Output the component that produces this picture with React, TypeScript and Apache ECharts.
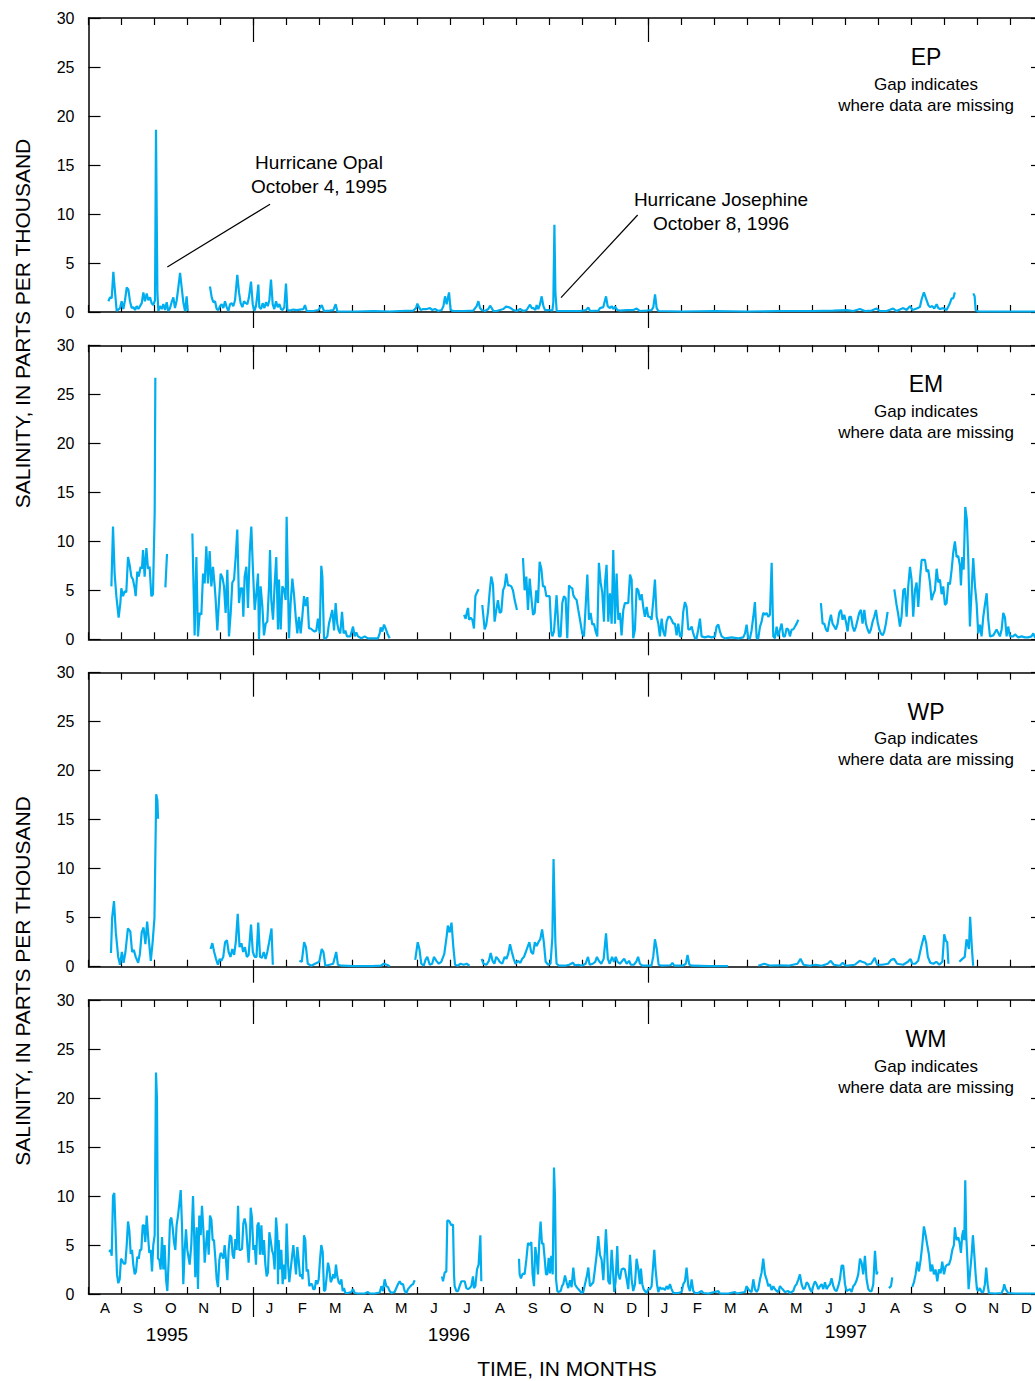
import React, { useEffect, useRef } from 'react';
import * as echarts from 'echarts';

// ---------- DATA (day offsets from 1 Aug 1995, salinity in ppt; null = missing) ----------
const MONTHS = ['A','S','O','N','D','J','F','M','A','M','J','J','A','S','O','N','D','J','F','M','A','M','J','J','A','S','O','N','D'];
const JAN_INDEX = [5, 17];
const DAY_MAX = 884;
const PANEL_NAMES = ['EP', 'EM', 'WP', 'WM'];
const GAP_NOTE = ['Gap indicates', 'where data are missing'];
const YEAR_LABELS = ['1995', '1996', '1997'];
const Y_LABEL = 'SALINITY, IN PARTS PER THOUSAND';
const X_LABEL = 'TIME, IN MONTHS';
const HURRICANES = [
  { name: 'Hurricane Opal', date: 'October 4, 1995', from: [168.1, 11.0], to: [73.0, 4.6] },
  { name: 'Hurricane Josephine', date: 'October 8, 1996', from: [508.6, 9.9], to: [437.6, 1.46] },
];

const EP: [number, number | null][] = [
[18.4,1.1],[19.9,1.5],[21.5,1.4],[23,4.1],[24.6,2.0],[26.1,0.1],[29.2,0.4],[30.7,1.1],[32.3,0.3],[33.8,1.2],[35.4,2.5],[36.9,2.3],[38.4,1.1],[40,0.4],[41.5,0.5],[43.1,0.2],[44.6,0.6],[46.2,0.3],[47.7,0.6],[49.3,0.9],[50.8,2.0],[52.3,1.1],[53.9,1.9],[55.4,1.2],[57,1.5],[58.5,0.9],[60,0.7],[61.6,1.2],[62.5,18.6],[63.8,2.0],[64.7,0.1],[66.2,0.6],[67.8,0.3],[69.3,0.8],[70.9,0.2],[72.4,1.0],[73.9,0.1],[75.5,0.4],[77,1.0],[78.6,1.5],[80.1,0.4],[81.7,1.2],[83.2,2.5],[84.8,4.0],[86.3,2.5],[87.8,1.0],[89.4,0.1],[90.9,1.6],[91.9,0.1],[95,null],
[112.5,2.6],[114.1,1.5],[115.6,1.0],[117.2,1.1],[118.7,0.3],[120.3,0.2],[121.8,0.6],[123.3,0.8],[124.9,0.4],[126.4,1.1],[128,0.5],[129.5,0.1],[131.1,0.8],[132.6,0.9],[134.1,0.6],[135.7,1.2],[137.8,3.8],[139.4,2.0],[140.9,0.9],[142.5,0.5],[144,1.1],[145.6,0.9],[147.1,0.8],[148.6,1.5],[150.5,3.1],[152.1,0.8],[153.6,0.1],[155.1,0.6],[156.1,1.5],[157.3,2.8],[158.2,0.5],[159.8,0.3],[161.3,0.9],[162.9,0.4],[164.4,1.0],[166,0.6],[167.5,1.2],[169,3.3],[170.6,0.8],[172.1,0.3],[173.7,1.1],[175.2,0.5],[176.8,0.8],[178.3,0.3],[179.8,0.2],[181.4,0.5],[182.9,2.9],[184.2,0.2],[186.6,0.15],[189.7,0.25],[192.8,0.2],[195.9,0.25],[199,0.3],[200.5,0.7],[202.1,0.1],[208.2,0.1],[212.9,0.2],[216,0.7],[218.1,0.1],[223.7,0.15],[226.8,0.2],[228.9,0.8],[230.5,0.05],[248.4,0.05],[263.8,0.1],[279.2,0.05],[288.5,0.1],[300.9,0.15],[303.3,0.4],[304.6,0.85],[306.1,0.5],[307.7,0.2],[310.1,0.3],[313.2,0.3],[316.3,0.4],[318.5,0.2],[320.9,0.3],[324,0.1],[327.1,0.2],[328.7,0.6],[330.2,1.6],[331.7,0.8],[333.9,2.0],[335.4,0.2],[337.9,0.1],[347.2,0.1],[356.4,0.15],[359.5,0.6],[361.1,1.1],[362.6,0.4],[364.2,0.2],[367.2,0.1],[370.3,0.3],[371.9,0.65],[373.4,0.4],[375,0.1],[378,0.1],[381.1,0.2],[384.2,0.3],[386.7,0.55],[388.8,0.5],[391,0.4],[393.5,0.2],[396.6,0.1],[399.7,0.3],[402.7,0.1],[405.8,0.2],[408.9,0.75],[410.5,0.4],[412,0.4],[413.9,0.2],[415.1,0.7],[416.6,0.3],[418.2,0.8],[419.7,1.6],[421.3,0.6],[422.8,0.2],[425.9,0.2],[429.6,0.15],[430.5,1.0],[431.5,8.9],[432.4,2.0],[433.6,0.1],[438.2,0.1],[446,0.1],[455.2,0.1],[460.8,0.2],[462.9,0.45],[464.5,0.1],[472.2,0.15],[473.7,0.4],[476.8,0.5],[479.3,1.6],[480.8,0.6],[483,0.4],[484.5,0.6],[486.1,0.3],[487.6,0.55],[489.8,0.2],[492.3,0.15],[498.4,0.2],[504.6,0.2],[507.7,0.35],[510.8,0.1],[517,0.15],[521.6,0.2],[523.1,0.5],[524.7,1.8],[526.2,0.4],[527.8,0.1],[550,0.05],[580,0.1],[610,0.05],[640,0.1],[671.2,0.1],[689.8,0.15],[702.1,0.2],[708.3,0.1],[714.5,0.3],[719.1,0.1],[725.3,0.15],[729.9,0.35],[733,0.1],[739.2,0.1],[745.3,0.35],[748.4,0.1],[751.5,0.25],[754.6,0.4],[757.7,0.2],[760.8,0.6],[763.2,0.2],[767,0.35],[770,0.5],[771.6,1.3],[773.7,2.0],[775.6,1.4],[777.8,0.7],[779.3,0.5],[781.5,0.6],[783.3,0.35],[785.5,0.8],[787,0.4],[788.6,0.3],[791.6,0.4],[794.7,0.2],[797.8,0.9],[799.4,1.4],[800.9,1.4],[802.4,2.0],[810,null],
[819.4,1.9],[820.7,1.6],[821.6,0.2],[824.1,0.05],[850,0.05],[884,0.05]
];

const EM: [number, number | null][] = [
[21.2,5.4],[22.7,11.5],[24.2,6.7],[25.8,4.4],[27.9,2.2],[29.5,3.7],[30.4,5.2],[32,4.4],[33.5,4.9],[35,4.8],[36.6,8.4],[38.1,7.6],[39.7,6.4],[41.2,6.1],[42.8,5.2],[43.7,4.4],[45.2,6.9],[46.5,6.4],[48.3,7.4],[49.5,7.2],[50.5,9.1],[52,6.4],[53.6,9.3],[55.1,7.2],[56.6,7.4],[58.2,4.4],[59.7,4.6],[61.3,13],[61.9,26.7],[63,null],
[71.2,5.3],[72.7,8.7],[75,null],
[96.2,10.8],[98.3,0.4],[99.9,8.4],[101.4,0.3],[103,2.7],[104.5,2.5],[106.1,6.7],[107.6,5.7],[109.1,9.5],[110.7,5.7],[112.2,9.0],[113.8,5.4],[115.3,7.4],[116.9,5.4],[117.8,4.0],[119.3,0.9],[120.9,4.0],[122.4,6.7],[124,6.3],[125.5,5.4],[127,2.7],[128.6,7.1],[130.1,0.3],[131.7,2.7],[133.2,5.8],[134.8,6.1],[136.3,8.4],[137.8,11.2],[139.4,3.7],[140.9,5.2],[142.5,5.2],[143.4,2.3],[144.6,6.4],[146.2,7.4],[147.7,3.2],[149.3,8.9],[150.8,11.5],[152.3,7.1],[153.9,3.0],[155.4,4.6],[157,6.7],[157.9,0],[159.4,5.4],[161,3.4],[162.5,0.4],[164.1,1.6],[165.6,1.8],[167.2,5.4],[168.1,9.1],[169.3,4.0],[170.9,2.0],[172.4,5.6],[173.9,8.4],[175.5,1.0],[176.4,6.1],[178,1.0],[179.5,5.4],[181,5.1],[182.6,4.0],[183.5,12.5],[184.8,5.1],[185.7,0.1],[187.2,3.7],[188.8,6.2],[190.3,4.6],[191.9,2.3],[193.4,0.6],[194.9,2.3],[196.5,0.6],[198,2.3],[199.6,4.4],[201.1,3.4],[202.7,4.3],[204.2,1.1],[205.8,1.1],[207.9,0.9],[209.5,0.8],[211,0.9],[212.5,2.1],[214.1,0.6],[215.6,7.5],[216.6,6.4],[218.1,0.1],[219.7,0.1],[221.2,0.3],[222.7,1.6],[224.3,2.3],[225.8,3.0],[227.4,0.9],[228.9,3.7],[230.4,1.6],[231.7,0.9],[233.2,0.6],[234.8,2.8],[236.3,0.6],[237.9,0.9],[239.4,0.3],[242.5,0.3],[245,1.3],[246.5,0.3],[248,0.7],[249.6,0.3],[252.7,0.1],[255.8,0.3],[258.8,0.1],[268.1,0.1],[269.7,0.6],[270.6,1.2],[272.1,0.8],[273.7,1.5],[275.2,1.1],[276.8,0.6],[278.9,0.1],[290,null],
[347.8,2.5],[349.3,2.1],[350.5,2.8],[351.5,3.2],[352.4,2.0],[353.9,2.2],[355.5,2.0],[357,1.1],[358.3,4.4],[359.8,4.8],[361.3,5.1],[363,null],
[364.7,3.5],[366.9,1.0],[368.4,1.5],[370,2.8],[371.5,4.8],[373,6.4],[374.6,5.6],[376.1,1.8],[377.7,3.0],[379.2,4.0],[380.8,2.7],[382.3,2.8],[383.9,5.0],[385.4,5.4],[386.9,6.7],[388.5,5.5],[390,5.5],[391.6,5.4],[393.1,5.0],[394.7,4.0],[396.8,3.0],[398.5,null],
[402.4,8.3],[403.9,5.0],[405.5,6.4],[407,3.0],[408.6,6.2],[410.1,4.3],[411.7,2.5],[413.2,2.7],[414.7,5.0],[416.3,3.7],[417.8,7.9],[419.4,7.2],[420.9,5.4],[422.5,5.4],[424,4.4],[425.5,4.4],[427.1,4.4],[428.6,0.8],[429.6,0.3],[431.1,0.8],
[433.5,4.5],[435.7,0.3],[437.2,0.3],[438.8,3.7],[440.3,4.4],[441.9,4.2],[443.4,0.1],[445,5.5],[446.5,5.3],[448.1,5.2],[449,4.5],[450.5,4.2],[452.1,4.0],[453.6,3.0],[455.2,2.0],[457.3,0.6],[458.9,0.3],[460.4,3.3],[462,6.6],[463.5,2.0],[465,2.7],[466.6,1.5],[468.1,1.6],[469.7,0.8],[471.2,0.3],[472.7,7.8],[474.3,5.8],[475.8,4.8],[477.4,1.8],[478.3,5.7],[479.8,7.6],[481.4,1.8],[482.9,4.7],[484.5,1.6],[486,9.1],[487.6,1.6],[489.1,6.7],[490.7,2.0],[492.2,2.7],[493.7,0.4],[495.3,3.0],[496.8,3.7],[498.4,3.7],[499.9,3.7],[501.5,6.6],[503,6.1],[504.5,0.1],[506.1,1.0],[507.6,5.2],[509.2,5.0],[510.7,4.0],[512.3,4.6],[513.8,3.3],[515.3,2.3],[516.9,3.3],[518.4,2.3],[520,2.3],[521.5,2.0],[523.1,4.0],[524.6,6.1],[526.2,2.3],[527.7,1.6],[529.2,0.3],[530.8,2.1],[532.3,0.8],[533.9,0.3],[535.4,1.8],[537,2.3],[538.5,2.3],[540,2.0],[541.6,1.6],[543.1,1.6],[544.7,0.4],[546.2,1.6],[547.8,0.3],[549.3,0.3],[550.8,2.8],[552.4,3.8],[553.9,3.3],[555.5,1.0],[557,1.0],[558.6,1.3],[560.1,0.6],[561.7,0.1],[563.2,0.1],[564.7,1.0],[566.3,2.1],[567.8,0.3],[570.9,0.2],[574,0.3],[577.1,0.2],[580.2,0.3],[581.7,1.3],[583.3,1.5],[584.8,0.8],[586.4,0.3],[589.4,0.1],[595.6,0.2],[601.8,0.1],[606.4,0.2],[608,0.6],[609.5,1.5],[611,0.1],[612.6,0.1],[614.1,0.9],[615.7,2.3],[617.2,3.8],[618.8,0.1],[620.3,0.1],[621.9,1.3],[623.4,1.8],[624.9,2.7],[626.5,2.5],[628,2.7],[629.6,2.3],[631.1,2.5],[632.7,7.8],[634.2,0.3],[635.7,0.1],[637.3,1.3],[638.8,0.3],[640.4,1.0],[641.9,1.6],[643.5,0.3],[645,0.3],[646.5,1.1],[648.1,1.0],[649.6,0.3],[651.2,1.0],[652.7,1.0],[654.3,1.3],[655.8,1.6],[657.4,2.0],[664,null],
[678.3,3.7],[679.9,1.6],[681.4,1.6],[683,1.0],[684.5,0.8],[686.1,1.8],[687.6,2.5],[689.1,1.6],[690.7,1.3],[692.2,1.0],[693.8,1.6],[695.3,2.7],[696.9,3.0],[698.4,2.0],[699.9,2.5],[701.5,1.8],[703,0.8],[704.6,2.3],[706.1,2.3],[707.7,1.3],[709.2,0.8],[710.8,1.3],[712.3,2.0],[713.8,2.7],[715.4,3.0],[716.9,1.6],[718.5,3.0],[720,1.6],[721.6,1.0],[723.1,0.6],[724.6,1.0],[726.2,1.8],[727.7,2.3],[729.3,3.0],[730.8,1.8],[732.4,1.0],[733.9,0.6],[735.5,0.4],[737,0.8],[738.5,1.6],[740.1,2.8],[743,null],
[746.3,5.1],[748.4,3.5],[750,2.5],[751.5,1.3],[753,2.3],[754.6,5.0],[756.1,5.2],[757.7,2.3],[759.2,5.4],[760.8,7.4],[762.3,6.1],[763.8,2.3],[765.4,5.0],[766.9,5.8],[768.5,3.3],[770,6.1],[771.6,8.1],[773.1,8.1],[774.7,8.1],[776.2,6.9],[777.7,7.1],[779.3,5.8],[780.8,4.0],[782.4,4.6],[783.9,5.0],[785.5,7.2],[787,5.8],[788.6,6.1],[790.1,4.6],[791.6,5.4],[793.2,3.5],[794.7,3.7],[796.3,5.8],[797.8,5.6],[799.4,7.1],[800.9,8.9],[802.4,10.0],[804,8.4],[805.5,8.5],[807.1,7.5],[808,5.5],[809.2,8.4],[810.5,7.1],[812,13.5],[813.5,12.2],[814.8,8.2],[816.3,1.3],[817.9,5.0],[819.4,8.3],[821,5.4],[822.5,3.7],[824,0.6],[825.6,1.5],[827.1,0.3],[828.7,2.3],[830.2,3.5],[831.8,4.7],[833.3,2.0],[834.9,0.3],[838,0.4],[841,1.0],[844.1,0.3],[845.7,1.0],[847.2,2.7],[848.8,2.2],[850.3,0.3],[851.8,1.3],[853.4,0.3],[856.5,0.3],[858,0.5],[861.1,0.2],[864.2,0.3],[867.3,0.2],[870.3,0.2],[873.4,0.3],[875,0.6],[876.5,0.2],[884,0.1]
];

const WP: [number, number | null][] = [
[20.8,1.4],[21.9,5.0],[23.6,6.7],[25.3,3.5],[27.5,1.0],[29.2,0.2],[30.9,1.5],[32.5,0.4],[34.2,1.5],[36.5,3.9],[38.7,3.6],[40.4,1.5],[42,1.7],[43.7,1.0],[46,0.4],[47.6,1.3],[49.3,3.5],[51,4.0],[52.7,2.3],[54.3,4.6],[56,2.6],[57.7,0.6],[59.4,2.5],[61.1,5.0],[62.7,17.6],[63.8,17.0],[64.4,15.1],[66,null],
[113.1,1.8],[114.7,2.4],[116.4,1.5],[118.1,0.8],[119.8,0.2],[121.5,0.8],[123.1,0.6],[124.8,1.0],[126.5,2.5],[128.2,2.7],[129.8,1.5],[131.5,1.0],[133.2,1.8],[134.9,1.2],[136.5,2.6],[138.2,5.4],[139.9,2.0],[141.6,2.4],[143.3,1.5],[144.9,2.0],[146.6,1.0],[148.3,1.2],[150.5,4.3],[152.2,1.5],[153.9,1.0],[155.6,1.0],[157.2,4.5],[158.9,1.0],[160.6,0.9],[162.3,1.5],[164,0.8],[165.6,1.5],[167.3,2.5],[169.5,3.9],[170.7,0.2],[178,null],
[195.3,0.6],[197.5,0.5],[199.7,2.5],[201.4,2.0],[203.1,0.3],[206.4,0.1],[209.8,0.3],[213.7,0.5],[216,1.8],[217.6,1.5],[219.3,0.1],[223.2,0.2],[226.6,0.3],[229.4,1.5],[231,0.2],[234.4,0.1],[245.6,0.05],[262.4,0.05],[270.8,0.1],[273.5,0.3],[276.3,0.2],[279.1,0.05],[285,null],
[302.6,0.7],[304.9,2.5],[306.5,1.8],[308.2,0.3],[310.5,0.1],[312.1,0.7],[313.8,1.0],[316,0.2],[318.3,0.3],[319.9,1.0],[322.2,0.6],[324.4,0.3],[326.7,0.5],[329.5,1.3],[331.7,3.1],[332.8,4.2],[334.5,3.5],[336.2,4.5],[337.9,2.0],[339.5,0.2],[341.8,0.1],[344.6,0.3],[347.4,0.2],[350.2,0.3],[352.9,0.1],[358,null],
[364.1,0.8],[365.8,0.3],[368.6,0.2],[370.8,0.6],[372.5,1.4],[374.2,0.6],[375.9,0.3],[377.6,1.0],[379.2,0.8],[380.9,0.5],[383.2,0.3],[385.4,1.0],[387.1,0.8],[388.7,1.3],[390.4,2.3],[392.1,1.5],[393.8,0.8],[395.5,0.3],[397.7,0.6],[400,0.4],[401.6,0.8],[403.3,1.0],[405,1.5],[406.6,2.0],[408.3,2.5],[410,1.5],[411.7,1.3],[413.4,2.5],[415,2.1],[416.7,2.5],[418.4,2.8],[420.1,3.8],[421.7,2.5],[423.4,0.5],[425.7,0.2],[427.9,0.3],[429.6,3.0],[430.7,11.0],[432.4,2.5],[433.5,0.3],[435.7,0.1],[441.3,0.1],[445.2,0.2],[448.6,0.4],[450.3,0.15],[453.6,0.2],[457,0.1],[460.3,0.3],[462.6,1.0],[464.2,0.2],[467,0.3],[469.3,0.5],[470.9,1.0],[472.6,0.6],[474.9,0.3],[477.1,0.8],[479.3,3.4],[481,0.8],[482.7,0.3],[484.9,1.0],[486.6,0.5],[488.3,1.0],[490,0.5],[492.2,0.3],[494.4,0.6],[496.1,0.8],[498.4,0.3],[500.6,0.6],[502.3,0.2],[505.1,0.2],[507.3,0.5],[509,1.0],[510.7,0.3],[512.9,0.1],[516.8,0.1],[521.3,0.1],[523,1.0],[524.6,2.8],[526.3,1.8],[528,0.2],[530.8,0.1],[539.2,0.15],[540.8,0.4],[542.5,0.1],[550.4,0.1],[553.2,0.3],[554.8,1.2],[556.5,0.2],[558.8,0.1],[575.5,0.05],[592.3,0.05],[605,null],
[620.3,0.1],[625.9,0.3],[628.7,0.2],[631.5,0.1],[639.8,0.15],[648.2,0.1],[656.6,0.3],[659.4,0.8],[662.2,0.2],[667.8,0.1],[673.4,0.2],[679,0.1],[684.6,0.3],[687.4,0.6],[690.2,0.2],[695.8,0.1],[698.5,0.4],[701.3,0.1],[709.7,0.2],[714.2,0.6],[716.4,0.5],[719.2,0.4],[720.9,0.2],[724.8,0.3],[728.2,0.9],[730.4,0.2],[734.9,0.2],[740.5,0.3],[743.3,0.7],[746.1,0.8],[748.9,0.3],[754.5,0.2],[758.9,0.5],[761.2,0.8],[762.9,0.3],[765.7,0.3],[768.4,0.6],[771.2,2.0],[774,3.2],[775.7,2.5],[777.4,1.0],[779.6,0.4],[782.4,0.3],[785.2,0.5],[788,0.2],[790.8,0.5],[792.5,3.3],[794.2,2.6],[795.3,2.5],[796.4,0.3],[800,null],
[806.5,0.5],[809.3,0.8],[811.5,1.0],[813.2,2.8],[815.4,1.8],[816.5,5.1],[818.2,1.8],[819.3,0.1]
];

const WM: [number, number | null][] = [
[19,4.3],[20.5,4.5],[21.5,3.9],[22.7,10.0],[23.9,10.3],[25.2,6.0],[26.4,2.0],[27.6,1.1],[28.9,1.5],[30.1,3.6],[31.3,3.4],[32.6,3.1],[34.1,3.1],[35.4,5.0],[36.6,7.4],[37.8,6.5],[39.1,4.1],[40.3,4.5],[41.5,3.0],[42.8,2.0],[44,2.3],[45.2,3.8],[46.5,3.6],[47.7,4.5],[48.9,4.5],[50.2,7.0],[51.4,7.0],[52.6,5.3],[53.9,8.0],[55.1,6.0],[56.3,4.2],[57.6,4.5],[58.8,2.3],[60,5.0],[61.3,6.0],[62.5,22.6],[63.4,20],[64.4,3.6],[65.6,3.5],[66.8,2.5],[68.1,5.8],[69.3,2.5],[70.5,5.0],[71.8,1.5],[73,0.3],[74.2,3.3],[75.5,7.5],[76.7,7.8],[77.9,6.8],[79.2,5.3],[80.4,4.5],[81.6,7.0],[82.9,8.0],[84.1,9.2],[85.4,10.6],[86.6,6.9],[87.8,1.0],[89.1,4.5],[90.3,6.6],[91.5,4.5],[93.7,3.0],[95.2,5.0],[96.8,10.0],[98,5.5],[98.9,1.7],[100.2,6.8],[101.4,0.5],[102.6,8.0],[103.9,6.0],[105.1,9.0],[106.4,6.5],[107.6,3.2],[108.8,5.0],[110.1,6.5],[111.3,4.0],[112.5,8.0],[113.8,7.6],[115,5.5],[116.2,5.5],[117.5,3.6],[118.7,1.5],[119.9,0.7],[121.2,3.5],[122.4,4.2],[123.6,4.0],[124.9,3.6],[126.1,5.0],[127.3,3.5],[128.6,1.4],[129.8,4.5],[131,6.0],[132.3,5.8],[133.5,4.0],[134.7,3.6],[136,5.6],[137.2,4.5],[138.5,9.0],[139.7,4.5],[140.9,4.5],[142.2,4.6],[143.4,7.2],[144.6,7.7],[145.9,7.0],[147.1,5.0],[148.3,3.2],[149.6,6.0],[150.2,8.8],[151.4,7.8],[152.7,4.5],[153.9,5.0],[155.1,3.0],[156.4,7.0],[157.6,7.3],[158.8,4.0],[160.1,7.0],[161.3,4.0],[162.5,5.5],[163.8,3.0],[165,1.8],[166.2,2.2],[167.5,6.3],[168.7,5.5],[169.9,4.5],[171.2,4.0],[172.4,2.5],[173.7,7.8],[174.9,6.0],[175.5,1.0],[176.1,5.5],[177.4,2.5],[178.6,4.5],[179.8,1.0],[181.1,3.0],[182.3,1.5],[183.5,7.2],[184.8,3.0],[186,1.2],[187.2,2.5],[188.5,3.8],[189.7,5.0],[190.9,3.5],[192.2,2.0],[193.4,4.8],[194.6,3.5],[195.9,1.8],[197.1,2.0],[198.3,1.5],[199.6,6.0],[200.8,5.5],[202,2.3],[203.3,2.5],[204.5,0.8],[205.8,1.0],[207,1.0],[208.2,0.5],[209.5,0.5],[210.7,1.4],[211.9,1.0],[213.2,1.5],[214.4,3.5],[215.6,5.0],[216.9,4.3],[218.1,0.3],[219.3,0.4],[220.6,1.8],[221.8,3.2],[223,2.6],[224.3,1.2],[225.5,1.5],[226.7,2.0],[228,1.6],[229.2,3.0],[230.4,1.8],[231.7,1.2],[232.9,1.0],[234.2,1.5],[235.4,0.3],[236.6,0.6],[237.9,0.1],[240.3,0.1],[243.4,0.2],[245,0.5],[246.5,0.1],[249.6,0.05],[255.8,0.05],[258.8,0.2],[260.4,0.05],[265,0.05],[269.7,0.15],[271.2,0.8],[272.7,0.3],[274.3,1.5],[275.8,0.8],[277.4,0.7],[278.9,0.3],[280.5,0.1],[283.5,0.2],[286.6,1.0],[288.2,1.3],[289.7,1.0],[291.3,1.0],[292.8,0.3],[294.4,0.1],[295.9,0.5],[297.4,0.7],[299,0.9],[300.5,1.0],[302.1,1.4],[310,null],
[327.4,1.8],[328.3,1.3],[329.9,2.2],[331.4,2.3],[332.3,7.5],[333.6,7.5],[334.8,7.3],[336,7.0],[337.6,7.1],[338.5,2.0],[339.1,0.8],[340.7,0.3],[342.2,0.3],[343.7,0.8],[345.3,1.3],[346.8,1.3],[348.4,1.3],[349.9,0.6],[351.5,0.5],[353,0.6],[354.5,0.8],[356.1,1.8],[357,0.6],[358.3,0.8],[359.8,2.5],[361.3,3.0],[362.9,6.0],[363.8,1.3],[372,null],
[398.7,3.6],[399.3,2.0],[400.5,1.6],[401.8,2.0],[403,2.1],[403.9,2.0],[405.5,3.5],[407,5.2],[408.6,5.0],[410.1,5.3],[411.3,2.0],[412.6,0.8],[413.8,4.8],[415,3.8],[416.3,2.0],[417.5,5.4],[418.7,7.4],[420,5.1],[421.2,5.2],[422.5,3.6],[423.7,2.0],[424.9,2.0],[426.2,3.7],[427.4,2.1],[428.6,3.9],[429.9,2.0],[431.1,12.9],[432,10.0],[433,1.5],[434.2,0.3],[435.1,0.2],[437.3,0.3],[438.5,0.8],[439.7,1.0],[441.3,1.9],[442.8,1.2],[444.3,0.6],[445.9,1.4],[447.4,0.7],[449,2.7],[450.5,1.0],[452.1,0.7],[453.6,0.5],[455.2,0.3],[456.7,0.1],[458.2,0.2],[459.8,1.0],[461.3,1.7],[462.9,2.7],[464.4,0.8],[466,1.0],[467.5,1.2],[469,2.5],[470.6,4.0],[472.1,5.9],[473.7,4.0],[475.2,3.5],[476.8,1.4],[478.3,4.5],[479.2,6.6],[480.2,4.5],[481.4,1.3],[482.9,1.0],[484.5,4.5],[486,2.0],[486.9,0.2],[488.2,1.3],[489.7,4.9],[490.7,2.0],[492.2,1.5],[493.7,2.5],[495.3,2.6],[496.8,2.5],[498.4,1.5],[499.9,0.5],[501.5,4.0],[503,1.5],[504.5,0.3],[506.1,1.0],[507.6,3.6],[509.2,2.5],[510.7,1.0],[511.6,2.6],[512.9,1.0],[514.1,0.5],[515.3,0.3],[516.9,0.1],[518.4,0.5],[520,0.5],[521.5,0.8],[524,4.5],[525.2,2.5],[526.5,1.0],[527.7,0.2],[529.2,0.7],[530.8,0.5],[532.3,0.6],[533.9,0.4],[535.4,0.8],[537,0.5],[538.5,1.0],[540,0.5],[541.6,0.1],[546.2,0.1],[549.3,0.2],[550.8,1.0],[552.4,1.3],[553.9,2.7],[555.5,0.8],[557,0.3],[558.6,1.5],[560.1,0.3],[561.7,0.1],[564.7,0.1],[567.8,0.3],[569.4,0.1],[574,0.05],[583.3,0.3],[584.8,0.05],[592.5,0.05],[598.7,0.2],[600.2,0.05],[608,0.2],[609.5,0.8],[611,0.5],[612.6,0.3],[614.1,0.2],[615.7,1.5],[617.2,0.5],[618.8,0.2],[620.3,0.5],[621.9,1.5],[623.4,2.2],[624.9,3.6],[626.5,2.0],[628,1.5],[629.6,0.8],[631.1,1.0],[632.7,0.4],[634.2,0.8],[635.7,0.5],[637.3,0.3],[638.8,0.2],[640.4,0.8],[641.9,0.6],[643.5,0.4],[645,0.2],[648.1,0.3],[649.6,0.1],[652.7,0.3],[654.3,0.8],[655.8,1.0],[657.4,1.5],[658.9,2.0],[660.4,1.0],[662,0.5],[663.5,0.6],[665.1,1.2],[666.6,1.0],[668.2,0.5],[669.7,0.2],[671.2,0.8],[672.8,1.3],[674.3,1.0],[675.9,0.5],[677.4,0.8],[679,1.0],[680.5,0.5],[682.1,1.2],[683.6,0.5],[685.1,0.8],[686.7,1.0],[688.2,1.6],[689.8,0.8],[691.3,0.4],[692.8,0.3],[694.4,0.8],[695.9,1.5],[697.5,2.9],[699,2.9],[700.6,1.0],[702.1,0.3],[703.7,0.4],[705.2,0.5],[706.7,0.2],[708.3,0.8],[709.8,1.0],[711.4,1.4],[712.9,2.0],[714.5,3.6],[716,3.2],[717.5,2.0],[719.1,3.9],[720.6,1.5],[722.2,0.5],[723.7,0.3],[725.3,0.3],[726.8,1.0],[728.4,4.4],[729.9,2.0],[730.8,2.3],[733,null],
[741.3,0.6],[743.2,0.8],[744.4,1.7],[748,null],
[762.9,0.7],[764.5,1.2],[766,2.0],[767.6,3.3],[769.1,2.3],[770.7,3.5],[772.2,5.0],[773.7,6.9],[775.3,6.0],[776.8,5.0],[778.4,4.0],[779.9,2.3],[781.4,3.0],[783,2.0],[784.5,2.5],[786.1,1.3],[787.6,2.5],[789.2,2.1],[790.7,3.3],[792.3,2.0],[793.8,2.8],[795.3,3.0],[796.9,3.0],[798.4,3.5],[800,4.5],[801.5,5.0],[802.4,6.8],[803.4,5.8],[804.3,5.5],[805.5,5.8],[806.8,5.2],[808,4.2],[809.2,6.0],[810.2,6.5],[811.1,5.5],[812,11.6],[812.9,6.0],[814.2,3.0],[815.1,0.5],[816.3,2.0],[817.9,4.0],[819.1,6.0],[820.4,4.0],[821.6,2.0],[822.8,0.5],[824,0.3],[825.6,0.6],[827.1,0.2],[828.7,0.2],[830.2,1.0],[831.4,2.7],[832.7,1.0],[833.9,0.1],[839.5,0.05],[845.7,0.1],[847.2,0.5],[848.1,1.0],[849.4,0.5],[850.6,0.3],[851.8,0.1],[858,0.05],[876.5,0.05],[884,0.05]
];

const SERIES = [EP, EM, WP, WM];

// ---------- LAYOUT / STYLE ----------
const FONT = '"Liberation Sans", Arial, Helvetica, sans-serif';
const LINE_COLOR = '#00AEEF';
const INK = '#000';
const PAGE_W = 1035;
const PAGE_H = 1381;
const CHART_W = 1060; // wider than the page; the plot frame runs past the right edge
const GRID_LEFT = 88.5;
const GRID_W = 954.5;
const GRID_H = 294;
const GRID_TOPS = [18, 345.3, 672.7, 1000];

function txt(text: string, x: number, y: number, size: number, extra: any = {}) {
  return {
    type: 'text', x, y, silent: true, ...extra,
    style: {
      text, fill: INK, font: `${size}px ${FONT}`,
      align: 'center', verticalAlign: 'middle', textAlign: 'center', textVerticalAlign: 'middle',
    },
  };
}

function buildOption() {
  const grid: any[] = [];
  const xAxis: any[] = [];
  const yAxis: any[] = [];
  const series: any[] = [];
  const axisLineStyle = { color: INK, width: 1.5 };
  const tickStyle = { color: INK, width: 1.2 };
  const catData = MONTHS.map((_, i) => String(i));

  SERIES.forEach((data, g) => {
    grid.push({ left: GRID_LEFT, top: GRID_TOPS[g], width: GRID_W, height: GRID_H });
    // data axis (days)
    xAxis.push({ type: 'value', gridIndex: g, min: 0, max: DAY_MAX, show: false });
    // month ticks, bottom & top
    ['bottom', 'top'].forEach((pos) => {
      xAxis.push({
        type: 'category', gridIndex: g, position: pos, data: catData, boundaryGap: true,
        axisLine: { show: true, onZero: false, lineStyle: axisLineStyle },
        axisTick: { show: true, inside: true, length: 7, interval: 0, lineStyle: tickStyle },
        axisLabel: {
          show: pos === 'bottom' && g === 3, interval: 0, margin: 6, fontSize: 15,
          color: INK, fontFamily: FONT, formatter: (v: string) => MONTHS[Number(v)],
        },
        splitLine: { show: false },
      });
    });
    // year ticks, bottom (outward) & top (inward)
    xAxis.push({
      type: 'category', gridIndex: g, position: 'bottom', data: catData, boundaryGap: true,
      axisLine: { show: false, onZero: false },
      axisTick: { show: true, inside: false, length: g === 3 ? 23 : 16,
        interval: (i: number) => JAN_INDEX.includes(i), lineStyle: tickStyle },
      axisLabel: { show: false }, splitLine: { show: false },
    });
    xAxis.push({
      type: 'category', gridIndex: g, position: 'top', data: catData, boundaryGap: true,
      axisLine: { show: false, onZero: false },
      axisTick: { show: true, inside: true, length: 24,
        interval: (i: number) => JAN_INDEX.includes(i), lineStyle: tickStyle },
      axisLabel: { show: false }, splitLine: { show: false },
    });
    ['left', 'right'].forEach((pos) => {
      yAxis.push({
        type: 'value', gridIndex: g, position: pos, min: 0, max: 30, interval: 5,
        axisLine: { show: true, onZero: false, lineStyle: axisLineStyle },
        axisTick: { show: true, inside: true, length: 12, lineStyle: tickStyle },
        axisLabel: { show: pos === 'left', fontSize: 16, color: INK, fontFamily: FONT, margin: 14 },
        splitLine: { show: false },
      });
    });
    const s: any = {
      type: 'line', xAxisIndex: 5 * g, yAxisIndex: 2 * g,
      data: data.map(([d, v]) => [d, v === null ? '-' : v]),
      showSymbol: false, symbol: 'none', connectNulls: false,
      lineStyle: { color: LINE_COLOR, width: 2.2 }, itemStyle: { color: LINE_COLOR },
      emphasis: { disabled: true }, silent: true, z: 3,
    };
    if (g === 0) {
      s.markLine = {
        silent: true, symbol: ['none', 'none'], label: { show: false },
        lineStyle: { color: INK, width: 1.2, type: 'solid' },
        emphasis: { disabled: true },
        data: HURRICANES.map((h) => [{ coord: h.from }, { coord: h.to }]),
      };
    }
    series.push(s);
  });

  const graphic: any[] = [];
  GRID_TOPS.forEach((top, g) => {
    graphic.push(txt(PANEL_NAMES[g], 926, top + 39, 23));
    graphic.push(txt(GAP_NOTE[0], 926, top + 66, 17));
    graphic.push(txt(GAP_NOTE[1], 926, top + 87, 17));
  });
  const hurPos = [[319, 162], [721, 199]];
  HURRICANES.forEach((h, k) => {
    graphic.push(txt(h.name, hurPos[k][0], hurPos[k][1], 19));
    graphic.push(txt(h.date, hurPos[k][0], hurPos[k][1] + 24.5, 19));
  });
  const yearPos = [[167, 1334], [449, 1334], [846, 1331]];
  YEAR_LABELS.forEach((y, k) => graphic.push(txt(y, yearPos[k][0], yearPos[k][1], 19)));
  graphic.push(txt(X_LABEL, 567, 1368, 21));
  graphic.push(txt(Y_LABEL, 22, 323.5, 21, { rotation: Math.PI / 2 }));
  graphic.push(txt(Y_LABEL, 22, 981, 21, { rotation: Math.PI / 2 }));

  return {
    animation: false,
    backgroundColor: '#fff',
    grid, xAxis, yAxis, series, graphic,
  };
}

export default function App() {
  const ref = useRef<HTMLDivElement>(null);
  useEffect(() => {
    const chart = echarts.init(ref.current as HTMLDivElement, null, { renderer: 'svg' });
    chart.setOption(buildOption() as any);
    return () => chart.dispose();
  }, []);
  return (
    <div
      style={{ position: 'absolute', left: 0, top: 0, width: PAGE_W, height: PAGE_H, overflow: 'hidden', background: '#fff' }}
    >
      <div ref={ref} style={{ width: CHART_W, height: PAGE_H }} />
    </div>
  );
}
